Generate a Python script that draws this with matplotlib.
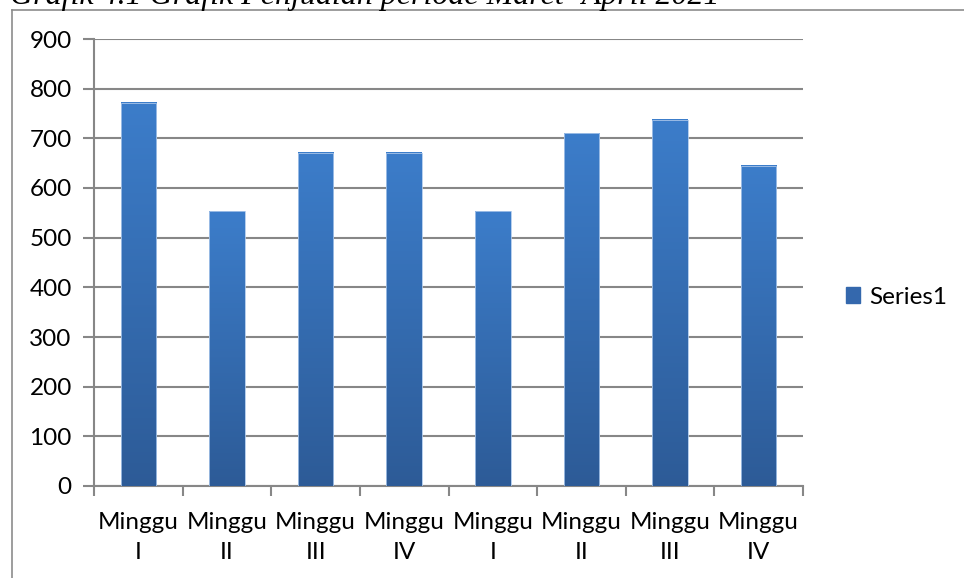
import numpy as np
import matplotlib.pyplot as plt
from matplotlib.colors import LinearSegmentedColormap
from matplotlib.lines import Line2D
from matplotlib.patches import Patch

# --- data ---
categories = ["Minggu\nI", "Minggu\nII", "Minggu\nIII", "Minggu\nIV",
              "Minggu\nI", "Minggu\nII", "Minggu\nIII", "Minggu\nIV"]
values = [772, 553, 671, 671, 553, 710, 737, 645]
series_name = "Series1"
y_ticks = [0, 100, 200, 300, 400, 500, 600, 700, 800, 900]
caption = "Grafik 4.1 Grafik Penjualan periode Maret- April 2021"

W, H = 964, 578
fig = plt.figure(figsize=(W / 100, H / 100), dpi=100)
fig.patch.set_facecolor("white")

label_font = "Lato"
label_size = 17.5
grid_col = "#878787"
top_col = "#3c7dca"
bot_col = "#2d5b97"
grad = LinearSegmentedColormap.from_list("bar", [bot_col, top_col])

# axes placement in pixels
x0, x1, y0, y1 = 94, 803, 486, 39
ax = fig.add_axes([x0 / W, 1 - y0 / H, (x1 - x0) / W, (y0 - y1) / H])

n = len(values)
xs = np.arange(n)
bar_w = 0.40

g = np.linspace(0, 1, 256).reshape(-1, 1)
for x, v in zip(xs, values):
    ax.imshow(g, cmap=grad, origin="lower", aspect="auto",
              extent=(x - bar_w / 2, x + bar_w / 2, 0, v), zorder=3)
    ax.bar(x, v, width=bar_w, facecolor="none", edgecolor="#a9c6ea",
           linewidth=0.6, zorder=4)
ax.set_xlim(-0.5, n - 0.5)
ax.set_ylim(0, 900)

ax.set_yticks(y_ticks)
ax.yaxis.grid(True, color=grid_col, linewidth=1.5, zorder=0)
ax.set_axisbelow(True)
ax.tick_params(axis="y", length=8, width=1.5, color=grid_col, pad=8,
               labelsize=label_size, labelcolor="black")
for lbl in ax.get_yticklabels():
    lbl.set_fontfamily(label_font)

# category boundaries get tick marks, labels sit at bar centres
ax.set_xticks(np.arange(-0.5, n, 1.0))
ax.set_xticklabels([])
ax.set_xticks(xs, minor=True)
ax.set_xticklabels(categories, minor=True, fontsize=label_size,
                   fontfamily=label_font, linespacing=1.5)
ax.tick_params(axis="x", which="major", length=7, width=1.5, color=grid_col)
ax.tick_params(axis="x", which="minor", length=0, pad=19)

for s in ["top", "right"]:
    ax.spines[s].set_visible(False)
for s in ["left", "bottom"]:
    ax.spines[s].set_color(grid_col)
    ax.spines[s].set_linewidth(1.5)

# legend on the right
handle = Patch(facecolor="#3468ad", edgecolor="#3468ad")
fig.legend([handle], [series_name], loc="center left",
           bbox_to_anchor=(824 / W, 1 - 297 / H), frameon=False,
           prop={"family": label_font, "size": label_size},
           handlelength=0.6, handleheight=0.6, handletextpad=0.35)

# outer frame of the chart object (left and top only visible)
fig.add_artist(Line2D([12 / W, 12 / W], [0, 1 - 9.5 / H],
                      transform=fig.transFigure, color="#8c8c8c", lw=1.2))
fig.add_artist(Line2D([12 / W, 1], [1 - 9.5 / H, 1 - 9.5 / H],
                      transform=fig.transFigure, color="#8c8c8c", lw=1.2))

# caption cut off at the top edge, as in the source page
fig.text(10 / W, 1 - 4 / H, caption, fontfamily="Liberation Serif",
         fontstyle="italic", fontsize=23, va="baseline", ha="left")

fig.savefig("out.png", dpi=100)
